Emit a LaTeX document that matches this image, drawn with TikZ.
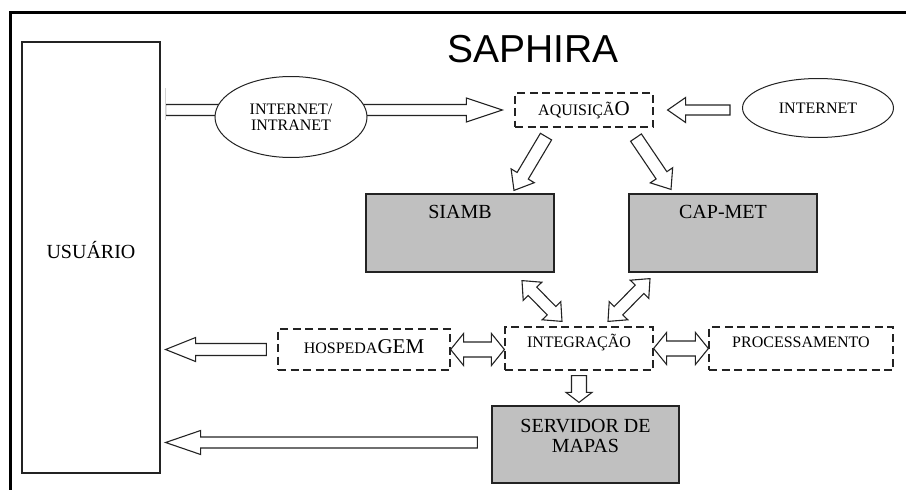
\documentclass[tikz,border=0pt]{standalone}
\usepackage{fontspec}
\setmainfont{Liberation Serif}
\newfontfamily\titlefont{Liberation Sans}
\usetikzlibrary{calc,shapes.geometric}
\definecolor{boxgray}{RGB}{192,192,192}
\definecolor{edgegray}{RGB}{35,35,35}
\tikzset{arr shaft/.initial=5pt, arr head/.initial=12pt, arr len/.initial=18pt}
\newcommand{\arrS}{\pgfkeysvalueof{/tikz/arr shaft}}
\newcommand{\arrH}{\pgfkeysvalueof{/tikz/arr head}}
\newcommand{\arrL}{\pgfkeysvalueof{/tikz/arr len}}
\newcommand{\bigletters}{\fontsize{21}{21}\selectfont}
\begin{document}
\begin{tikzpicture}
[x=1pt,y=-1pt,
  plainbox/.style={draw=edgegray,line width=1.2pt},
  graybox/.style={draw=edgegray,fill=boxgray,line width=1.2pt},
  dashbox/.style={draw=edgegray,line width=1.2pt,dash pattern=on 8pt off 4.5pt},
  netellipse/.style={ellipse,draw=edgegray,line width=1pt,fill=white,inner sep=0pt,
    align=center,font=\fontsize{16}{16}\selectfont},
  boxlabel/.style={inner sep=0pt,anchor=north,align=center,font=\fontsize{20}{20}\selectfont},
  smalllabel/.style={inner sep=0pt,font=\fontsize{16}{16}\selectfont},
  onearrow/.style={draw=edgegray,fill=white,line width=1.1pt,
    to path={($(\tikztostart)!\arrS!90:(\tikztotarget)$)
      -- ($($(\tikztotarget)!\arrL!(\tikztostart)$)!\arrS!90:(\tikztotarget)$)
      -- ($($(\tikztotarget)!\arrL!(\tikztostart)$)!\arrH!90:(\tikztotarget)$)
      -- (\tikztotarget)
      -- ($($(\tikztotarget)!\arrL!(\tikztostart)$)!\arrH!-90:(\tikztotarget)$)
      -- ($($(\tikztotarget)!\arrL!(\tikztostart)$)!\arrS!-90:(\tikztotarget)$)
      -- ($(\tikztostart)!\arrS!-90:(\tikztotarget)$) -- cycle}},
  twoarrow/.style={draw=edgegray,fill=white,line width=1.1pt,
    to path={(\tikztostart)
      -- ($($(\tikztostart)!\arrL!(\tikztotarget)$)!\arrH!90:(\tikztotarget)$)
      -- ($($(\tikztostart)!\arrL!(\tikztotarget)$)!\arrS!90:(\tikztotarget)$)
      -- ($($(\tikztotarget)!\arrL!(\tikztostart)$)!\arrS!90:(\tikztotarget)$)
      -- ($($(\tikztotarget)!\arrL!(\tikztostart)$)!\arrH!90:(\tikztotarget)$)
      -- (\tikztotarget)
      -- ($($(\tikztotarget)!\arrL!(\tikztostart)$)!\arrH!-90:(\tikztotarget)$)
      -- ($($(\tikztotarget)!\arrL!(\tikztostart)$)!\arrS!-90:(\tikztotarget)$)
      -- ($($(\tikztostart)!\arrL!(\tikztotarget)$)!\arrS!-90:(\tikztotarget)$)
      -- ($($(\tikztostart)!\arrL!(\tikztotarget)$)!\arrH!-90:(\tikztotarget)$)
      -- cycle}}]
\useasboundingbox (0,0) rectangle (906,490);
%% frame and title
\draw[line width=3pt] (10,491) -- (10,12) -- (907,12);
\node (title) at (533,49) [inner sep=0pt,font=\titlefont\fontsize{39}{39}\selectfont] {SAPHIRA};
%% boxes
\node (user) at (91,257.5) [plainbox, minimum width=138pt, minimum height=431pt] {};
\foreach \nodename/\x/\y/\w/\h in {
  siamb/460/233/188/78, capmet/723/233/188/78, servidor/585.5/444.5/187/77} {
  \node (\nodename) at (\x,\y) [graybox, minimum width=\w pt, minimum height=\h pt] {};
}
\foreach \nodename/\x/\y/\w/\h in {
  aquis/584/110/138/34, integ/579/348.5/148/43,
  proc/801/348.5/184/43, hosp/364/349.5/172/41} {
  \node (\nodename) at (\x,\y) [dashbox, minimum width=\w pt, minimum height=\h pt] {};
}
\node (inet) at (818,108) [netellipse, minimum width=151pt, minimum height=59pt] {INTERNET};
%% labels
\node [boxlabel, anchor=center] at ($(user.center)+(0,-7)$) {USUÁRIO};
\node [boxlabel] at ($(siamb.north)+(0,12)$) {SIAMB};
\node [boxlabel] at ($(capmet.north)+(0,12)$) {CAP-MET};
\node [boxlabel] at ($(servidor.north)+(0,14)$) {SERVIDOR DE\\MAPAS};
\node [smalllabel] at (aquis.center) {AQUISIÇÃ{\bigletters O}};
\node [smalllabel] at ($(integ.center)+(0,-6)$) {INTEGRAÇÃO};
\node [smalllabel] at ($(proc.center)+(0,-6)$) {PROCESSAMENTO};
\node [smalllabel] at ($(hosp.center)+(0,-3)$) {HOSPEDA{\bigletters GEM}};
%% arrow ends
\coordinate (usrout) at ($(user.east |- aquis.west)+(5,0)$);
\coordinate (aqin) at ($(aquis.west)+(-12,0)$);
\coordinate (netout) at ($(inet.west |- aquis.east)+(-12,0)$);
\coordinate (aqin2) at ($(aquis.east)+(14,0)$);
\coordinate (aqsiamb) at ($(aquis.south)+(-38,9)$);
\coordinate (siambin) at ($(siamb.north)+(54,-3)$);
\coordinate (aqcap) at ($(aquis.south)+(52,10)$);
\coordinate (capin) at ($(capmet.north)+(-52,-4)$);
\coordinate (siambout) at ($(siamb.south)+(62,8)$);
\coordinate (intsiamb) at ($(integ.north)+(-17,-5)$);
\coordinate (capout) at ($(capmet.south)+(-73,6)$);
\coordinate (intcap) at ($(integ.north)+(29,-5)$);
\coordinate (inthosp) at (hosp.east -| integ.west);
\coordinate (procint) at (integ.east -| proc.west);
\coordinate (hospout) at ($(hosp.west)+(-11,0)$);
\coordinate (usrin1) at ($(user.east |- hosp.west)+(5,0)$);
\coordinate (intout) at ($(integ.south)+(0,5)$);
\coordinate (servin) at ($(integ.south |- servidor.north)+(0,-3)$);
\coordinate (servout) at ($(servidor.west)+(-14,-2)$);
\coordinate (usrin2) at ($(user.east |- servout)+(5,0)$);
%% arrows
\foreach \startpt/\endpt/\sw/\hw/\hl in {
  usrout/aqin/5.5/12/36, netout/aqin2/5/12.5/18, aqsiamb/siambin/6.5/13.5/17,
  aqcap/capin/6.5/13.5/17, hospout/usrin1/6/12/30, intout/servin/7.5/13/10,
  servout/usrin2/5.5/12/35} {
  \draw[onearrow, arr shaft=\sw pt, arr head=\hw pt, arr len=\hl pt] (\startpt) to (\endpt);
}
\foreach \startpt/\endpt/\sw/\hw/\hl in {
  siambout/intsiamb/6/13/15, capout/intcap/6/13/15,
  hosp.east/inthosp/7.5/16/13, integ.east/procint/7.5/16/13} {
  \draw[twoarrow, arr shaft=\sw pt, arr head=\hw pt, arr len=\hl pt] (\startpt) to (\endpt);
}
\draw[gray!35, line width=0.6pt] ($(usrout)+(0,-22)$) -- ($(usrout)+(0,10)$);
%% ellipse over the long arrow
\node (intranet) at (291,117) [netellipse, minimum width=152pt, minimum height=81pt] {INTERNET/\\INTRANET};
\end{tikzpicture}
\end{document}
